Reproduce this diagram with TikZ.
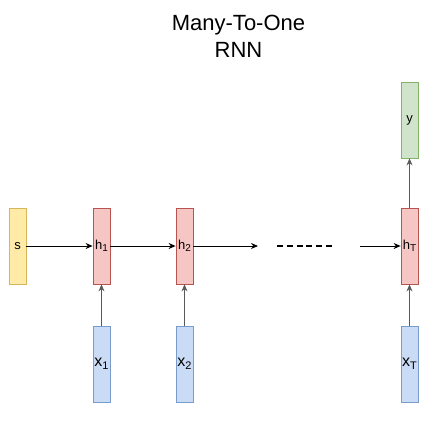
\documentclass[tikz,border=0pt]{standalone}
\usepackage{fontspec}
\setmainfont{Liberation Sans}
\usetikzlibrary{arrows.meta}
\definecolor{sfill}{HTML}{FFEAA8}
\definecolor{sline}{HTML}{D6B656}
\definecolor{hfill}{HTML}{F5C6C3}
\definecolor{hline}{HTML}{B85450}
\definecolor{xfill}{HTML}{CADBF5}
\definecolor{xline}{HTML}{7A9CCB}
\definecolor{yfill}{HTML}{CFE4CB}
\definecolor{yline}{HTML}{82B366}
\newcommand{\idx}[2][10]{\raisebox{-0.35ex}{\fontsize{#1}{#1}\selectfont #2}}
\tikzset{
  cell/.style={draw, line width=0.8pt, minimum width=17pt, minimum height=76pt, inner sep=0pt, font=\fontsize{13}{14}\selectfont},
  startcell/.style={cell, fill=sfill, draw=sline},
  hidcell/.style={cell, fill=hfill, draw=hline},
  incell/.style={cell, fill=xfill, draw=xline, font=\fontsize{16}{17}\selectfont},
  outcell/.style={cell, fill=yfill, draw=yline},
  flow/.style={-{Stealth[length=7pt,width=6pt]}, line width=0.9pt},
  upflow/.style={flow, draw=black!65},
}
\begin{document}
\begin{tikzpicture}[x=1pt,y=-1pt]
				\useasboundingbox (0,0) rectangle (446,424);
				\node[align=center, font=\fontsize{22}{27}\selectfont] (title) at (238.5,36) {Many-To-One\\RNN};

				\node[startcell] (s) at (17.5,246) {s};
				\node[hidcell] (h1) at (101.5,246) {h\idx{1}};
				\node[hidcell] (h2) at (184.5,246) {h\idx{2}};
				\node[hidcell] (hT) at (409.5,246) {h\idx{T}};
				\node[outcell] (y) at (409.5,120) {y};
				\node[incell] (x1) at (101.5,364) {x\idx[11]{1}};
				\node[incell] (x2) at (184.5,364) {x\idx[11]{2}};
				\node[incell] (xT) at (409.5,364) {x\idx[11]{T}};

				\coordinate (end2) at (258,246);
				\coordinate (dotsL) at (277,246);
				\coordinate (dotsR) at (332,246);
				\coordinate (startT) at (360,246);

				\draw[flow] (s) -- (h1);
				\draw[flow] (h1) -- (h2);
				\draw[flow] (h2) -- (end2);
				\draw[line width=1.2pt, dash pattern=on 6pt off 3.8pt] (dotsL) -- (dotsR);
				\draw[flow] (startT) -- (hT);

				\draw[upflow] (x1) -- (h1);
				\draw[upflow] (x2) -- (h2);
				\draw[upflow] (xT) -- (hT);
				\draw[upflow] (hT) -- (y);
			\end{tikzpicture}
\end{document}
